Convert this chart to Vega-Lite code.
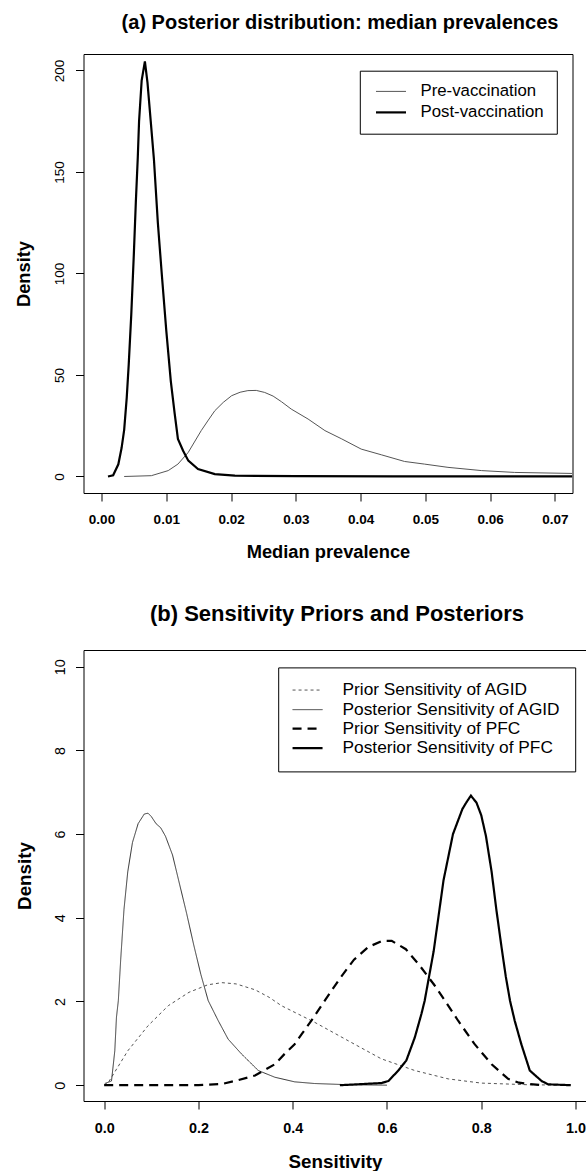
{
  "$schema": "https://vega.github.io/schema/vega-lite/v6.json",
  "background": "white",
  "padding": {"left": 13.5, "top": 12, "right": 0, "bottom": 0},
  "autosize": {"type": "pad"},
  "spacing": 157,
  "bounds": "flush",
  "resolve": {"scale": {"color": "independent", "strokeWidth": "independent", "strokeDash": "independent"}, "legend": {"color": "independent", "strokeWidth": "independent", "strokeDash": "independent"}},
  "config": {
    "font": "Liberation Sans",
    "view": {"stroke": "#000", "strokeWidth": 1},
    "axis": {"grid": false, "domain": false, "tickColor": "#000", "tickSize": 8, "tickWidth": 1, "labelColor": "#000", "titleColor": "#000", "labelFont": "Liberation Sans", "titleFont": "Liberation Sans", "titleFontWeight": "bold", "labelFlush": false, "labelOverlap": false},
    "legend": {"labelFont": "Liberation Sans", "labelColor": "#000", "labelLimit": 400},
    "title": {"font": "Liberation Sans", "fontWeight": "bold", "color": "#000", "anchor": "middle", "baseline": "alphabetic", "frame": "group"}
  },
  "datasets": {
    "a": [
      {"x": 0.0035, "d": 0, "series": "Pre-vaccination"},
      {"x": 0.0077, "d": 0.4, "series": "Pre-vaccination"},
      {"x": 0.0103, "d": 2.9, "series": "Pre-vaccination"},
      {"x": 0.0118, "d": 6.1, "series": "Pre-vaccination"},
      {"x": 0.0134, "d": 11.9, "series": "Pre-vaccination"},
      {"x": 0.0154, "d": 22.6, "series": "Pre-vaccination"},
      {"x": 0.0165, "d": 27.8, "series": "Pre-vaccination"},
      {"x": 0.0175, "d": 32.4, "series": "Pre-vaccination"},
      {"x": 0.0188, "d": 36.5, "series": "Pre-vaccination"},
      {"x": 0.0201, "d": 39.8, "series": "Pre-vaccination"},
      {"x": 0.0214, "d": 41.5, "series": "Pre-vaccination"},
      {"x": 0.0226, "d": 42.3, "series": "Pre-vaccination"},
      {"x": 0.0239, "d": 42.4, "series": "Pre-vaccination"},
      {"x": 0.0252, "d": 41.4, "series": "Pre-vaccination"},
      {"x": 0.0265, "d": 39.6, "series": "Pre-vaccination"},
      {"x": 0.0278, "d": 36.8, "series": "Pre-vaccination"},
      {"x": 0.0293, "d": 33.2, "series": "Pre-vaccination"},
      {"x": 0.0319, "d": 28.3, "series": "Pre-vaccination"},
      {"x": 0.0345, "d": 22.6, "series": "Pre-vaccination"},
      {"x": 0.0371, "d": 18.5, "series": "Pre-vaccination"},
      {"x": 0.0401, "d": 13.5, "series": "Pre-vaccination"},
      {"x": 0.0432, "d": 10.7, "series": "Pre-vaccination"},
      {"x": 0.0468, "d": 7.4, "series": "Pre-vaccination"},
      {"x": 0.0499, "d": 6.1, "series": "Pre-vaccination"},
      {"x": 0.0535, "d": 4.5, "series": "Pre-vaccination"},
      {"x": 0.0587, "d": 2.9, "series": "Pre-vaccination"},
      {"x": 0.0638, "d": 2.0, "series": "Pre-vaccination"},
      {"x": 0.0727, "d": 1.5, "series": "Pre-vaccination"},
      {"x": 0.0010, "d": 0, "series": "Post-vaccination"},
      {"x": 0.0018, "d": 0.6, "series": "Post-vaccination"},
      {"x": 0.0026, "d": 6, "series": "Post-vaccination"},
      {"x": 0.0031, "d": 14, "series": "Post-vaccination"},
      {"x": 0.0035, "d": 23, "series": "Post-vaccination"},
      {"x": 0.0039, "d": 39, "series": "Post-vaccination"},
      {"x": 0.0042, "d": 55, "series": "Post-vaccination"},
      {"x": 0.0046, "d": 80, "series": "Post-vaccination"},
      {"x": 0.0050, "d": 110, "series": "Post-vaccination"},
      {"x": 0.0053, "d": 135, "series": "Post-vaccination"},
      {"x": 0.0056, "d": 157, "series": "Post-vaccination"},
      {"x": 0.0058, "d": 175, "series": "Post-vaccination"},
      {"x": 0.0062, "d": 195, "series": "Post-vaccination"},
      {"x": 0.0067, "d": 204.5, "series": "Post-vaccination"},
      {"x": 0.0071, "d": 194, "series": "Post-vaccination"},
      {"x": 0.0076, "d": 175, "series": "Post-vaccination"},
      {"x": 0.0081, "d": 156, "series": "Post-vaccination"},
      {"x": 0.0087, "d": 125, "series": "Post-vaccination"},
      {"x": 0.0093, "d": 100, "series": "Post-vaccination"},
      {"x": 0.0100, "d": 72, "series": "Post-vaccination"},
      {"x": 0.0107, "d": 47, "series": "Post-vaccination"},
      {"x": 0.0113, "d": 31, "series": "Post-vaccination"},
      {"x": 0.0118, "d": 18.5, "series": "Post-vaccination"},
      {"x": 0.0126, "d": 12.7, "series": "Post-vaccination"},
      {"x": 0.0134, "d": 7.8, "series": "Post-vaccination"},
      {"x": 0.0149, "d": 3.7, "series": "Post-vaccination"},
      {"x": 0.0175, "d": 1.2, "series": "Post-vaccination"},
      {"x": 0.0206, "d": 0.4, "series": "Post-vaccination"},
      {"x": 0.0300, "d": 0.15, "series": "Post-vaccination"},
      {"x": 0.0450, "d": 0.1, "series": "Post-vaccination"},
      {"x": 0.0727, "d": 0.05, "series": "Post-vaccination"}
    ],
    "b": [
      {"s": 0, "dens": 0, "curve": "Prior Sensitivity of AGID"},
      {"s": 0.0085, "dens": 0.06, "curve": "Prior Sensitivity of AGID"},
      {"s": 0.05, "dens": 0.82, "curve": "Prior Sensitivity of AGID"},
      {"s": 0.093, "dens": 1.42, "curve": "Prior Sensitivity of AGID"},
      {"s": 0.136, "dens": 1.9, "curve": "Prior Sensitivity of AGID"},
      {"s": 0.18, "dens": 2.22, "curve": "Prior Sensitivity of AGID"},
      {"s": 0.22, "dens": 2.4, "curve": "Prior Sensitivity of AGID"},
      {"s": 0.25, "dens": 2.45, "curve": "Prior Sensitivity of AGID"},
      {"s": 0.28, "dens": 2.42, "curve": "Prior Sensitivity of AGID"},
      {"s": 0.32, "dens": 2.28, "curve": "Prior Sensitivity of AGID"},
      {"s": 0.35, "dens": 2.1, "curve": "Prior Sensitivity of AGID"},
      {"s": 0.376, "dens": 1.9, "curve": "Prior Sensitivity of AGID"},
      {"s": 0.447, "dens": 1.5, "curve": "Prior Sensitivity of AGID"},
      {"s": 0.518, "dens": 1.06, "curve": "Prior Sensitivity of AGID"},
      {"s": 0.588, "dens": 0.63, "curve": "Prior Sensitivity of AGID"},
      {"s": 0.659, "dens": 0.35, "curve": "Prior Sensitivity of AGID"},
      {"s": 0.73, "dens": 0.15, "curve": "Prior Sensitivity of AGID"},
      {"s": 0.8, "dens": 0.05, "curve": "Prior Sensitivity of AGID"},
      {"s": 0.9, "dens": 0.01, "curve": "Prior Sensitivity of AGID"},
      {"s": 0.99, "dens": 0, "curve": "Prior Sensitivity of AGID"},
      {"s": 0.0013, "dens": 0.04, "curve": "Posterior Sensitivity of AGID"},
      {"s": 0.0155, "dens": 0.1, "curve": "Posterior Sensitivity of AGID"},
      {"s": 0.0225, "dens": 0.82, "curve": "Posterior Sensitivity of AGID"},
      {"s": 0.026, "dens": 1.62, "curve": "Posterior Sensitivity of AGID"},
      {"s": 0.03, "dens": 2.02, "curve": "Posterior Sensitivity of AGID"},
      {"s": 0.035, "dens": 3.0, "curve": "Posterior Sensitivity of AGID"},
      {"s": 0.042, "dens": 4.2, "curve": "Posterior Sensitivity of AGID"},
      {"s": 0.05, "dens": 5.1, "curve": "Posterior Sensitivity of AGID"},
      {"s": 0.06, "dens": 5.8, "curve": "Posterior Sensitivity of AGID"},
      {"s": 0.072, "dens": 6.25, "curve": "Posterior Sensitivity of AGID"},
      {"s": 0.085, "dens": 6.48, "curve": "Posterior Sensitivity of AGID"},
      {"s": 0.093, "dens": 6.5, "curve": "Posterior Sensitivity of AGID"},
      {"s": 0.1, "dens": 6.42, "curve": "Posterior Sensitivity of AGID"},
      {"s": 0.11, "dens": 6.25, "curve": "Posterior Sensitivity of AGID"},
      {"s": 0.12, "dens": 6.15, "curve": "Posterior Sensitivity of AGID"},
      {"s": 0.13, "dens": 5.95, "curve": "Posterior Sensitivity of AGID"},
      {"s": 0.145, "dens": 5.5, "curve": "Posterior Sensitivity of AGID"},
      {"s": 0.16, "dens": 4.8, "curve": "Posterior Sensitivity of AGID"},
      {"s": 0.175, "dens": 4.1, "curve": "Posterior Sensitivity of AGID"},
      {"s": 0.19, "dens": 3.35, "curve": "Posterior Sensitivity of AGID"},
      {"s": 0.205, "dens": 2.65, "curve": "Posterior Sensitivity of AGID"},
      {"s": 0.2207, "dens": 2.02, "curve": "Posterior Sensitivity of AGID"},
      {"s": 0.242, "dens": 1.54, "curve": "Posterior Sensitivity of AGID"},
      {"s": 0.263, "dens": 1.1, "curve": "Posterior Sensitivity of AGID"},
      {"s": 0.291, "dens": 0.75, "curve": "Posterior Sensitivity of AGID"},
      {"s": 0.327, "dens": 0.35, "curve": "Posterior Sensitivity of AGID"},
      {"s": 0.362, "dens": 0.19, "curve": "Posterior Sensitivity of AGID"},
      {"s": 0.404, "dens": 0.08, "curve": "Posterior Sensitivity of AGID"},
      {"s": 0.446, "dens": 0.04, "curve": "Posterior Sensitivity of AGID"},
      {"s": 0.52, "dens": 0.01, "curve": "Posterior Sensitivity of AGID"},
      {"s": 0.6, "dens": 0, "curve": "Posterior Sensitivity of AGID"},
      {"s": 0, "dens": 0, "curve": "Prior Sensitivity of PFC"},
      {"s": 0.2, "dens": 0, "curve": "Prior Sensitivity of PFC"},
      {"s": 0.25, "dens": 0.03, "curve": "Prior Sensitivity of PFC"},
      {"s": 0.277, "dens": 0.1, "curve": "Prior Sensitivity of PFC"},
      {"s": 0.32, "dens": 0.23, "curve": "Prior Sensitivity of PFC"},
      {"s": 0.362, "dens": 0.5, "curve": "Prior Sensitivity of PFC"},
      {"s": 0.383, "dens": 0.75, "curve": "Prior Sensitivity of PFC"},
      {"s": 0.404, "dens": 0.98, "curve": "Prior Sensitivity of PFC"},
      {"s": 0.419, "dens": 1.22, "curve": "Prior Sensitivity of PFC"},
      {"s": 0.44, "dens": 1.55, "curve": "Prior Sensitivity of PFC"},
      {"s": 0.468, "dens": 2.02, "curve": "Prior Sensitivity of PFC"},
      {"s": 0.5, "dens": 2.55, "curve": "Prior Sensitivity of PFC"},
      {"s": 0.53, "dens": 3.0, "curve": "Prior Sensitivity of PFC"},
      {"s": 0.56, "dens": 3.3, "curve": "Prior Sensitivity of PFC"},
      {"s": 0.59, "dens": 3.45, "curve": "Prior Sensitivity of PFC"},
      {"s": 0.61, "dens": 3.45, "curve": "Prior Sensitivity of PFC"},
      {"s": 0.64, "dens": 3.25, "curve": "Prior Sensitivity of PFC"},
      {"s": 0.67, "dens": 2.85, "curve": "Prior Sensitivity of PFC"},
      {"s": 0.7, "dens": 2.4, "curve": "Prior Sensitivity of PFC"},
      {"s": 0.723, "dens": 2.02, "curve": "Prior Sensitivity of PFC"},
      {"s": 0.751, "dens": 1.54, "curve": "Prior Sensitivity of PFC"},
      {"s": 0.786, "dens": 0.98, "curve": "Prior Sensitivity of PFC"},
      {"s": 0.822, "dens": 0.5, "curve": "Prior Sensitivity of PFC"},
      {"s": 0.857, "dens": 0.15, "curve": "Prior Sensitivity of PFC"},
      {"s": 0.88, "dens": 0.06, "curve": "Prior Sensitivity of PFC"},
      {"s": 0.9, "dens": 0.03, "curve": "Prior Sensitivity of PFC"},
      {"s": 0.93, "dens": 0, "curve": "Prior Sensitivity of PFC"},
      {"s": 0.5, "dens": 0, "curve": "Posterior Sensitivity of PFC"},
      {"s": 0.588, "dens": 0.05, "curve": "Posterior Sensitivity of PFC"},
      {"s": 0.603, "dens": 0.1, "curve": "Posterior Sensitivity of PFC"},
      {"s": 0.624, "dens": 0.35, "curve": "Posterior Sensitivity of PFC"},
      {"s": 0.641, "dens": 0.59, "curve": "Posterior Sensitivity of PFC"},
      {"s": 0.659, "dens": 1.14, "curve": "Posterior Sensitivity of PFC"},
      {"s": 0.673, "dens": 1.7, "curve": "Posterior Sensitivity of PFC"},
      {"s": 0.68, "dens": 2.02, "curve": "Posterior Sensitivity of PFC"},
      {"s": 0.699, "dens": 3.2, "curve": "Posterior Sensitivity of PFC"},
      {"s": 0.72, "dens": 4.9, "curve": "Posterior Sensitivity of PFC"},
      {"s": 0.74, "dens": 6.0, "curve": "Posterior Sensitivity of PFC"},
      {"s": 0.76, "dens": 6.6, "curve": "Posterior Sensitivity of PFC"},
      {"s": 0.768, "dens": 6.75, "curve": "Posterior Sensitivity of PFC"},
      {"s": 0.778, "dens": 6.92, "curve": "Posterior Sensitivity of PFC"},
      {"s": 0.79, "dens": 6.75, "curve": "Posterior Sensitivity of PFC"},
      {"s": 0.8, "dens": 6.45, "curve": "Posterior Sensitivity of PFC"},
      {"s": 0.81, "dens": 5.95, "curve": "Posterior Sensitivity of PFC"},
      {"s": 0.822, "dens": 5.1, "curve": "Posterior Sensitivity of PFC"},
      {"s": 0.832, "dens": 4.2, "curve": "Posterior Sensitivity of PFC"},
      {"s": 0.843, "dens": 3.3, "curve": "Posterior Sensitivity of PFC"},
      {"s": 0.852, "dens": 2.6, "curve": "Posterior Sensitivity of PFC"},
      {"s": 0.861, "dens": 2.02, "curve": "Posterior Sensitivity of PFC"},
      {"s": 0.871, "dens": 1.54, "curve": "Posterior Sensitivity of PFC"},
      {"s": 0.885, "dens": 0.98, "curve": "Posterior Sensitivity of PFC"},
      {"s": 0.903, "dens": 0.35, "curve": "Posterior Sensitivity of PFC"},
      {"s": 0.928, "dens": 0.1, "curve": "Posterior Sensitivity of PFC"},
      {"s": 0.942, "dens": 0.02, "curve": "Posterior Sensitivity of PFC"},
      {"s": 0.99, "dens": 0, "curve": "Posterior Sensitivity of PFC"}
    ]
  },
  "vconcat": [
    {
      "width": 489,
      "height": 439,
      "title": {"text": "(a) Posterior distribution: median prevalences", "fontSize": 20, "offset": 21, "dx": 12},
      "data": {"name": "a"},
      "mark": {"type": "line", "clip": true},
      "encoding": {
        "x": {
          "field": "x", "type": "quantitative",
          "scale": {"domain": [-0.00278, 0.07273], "nice": false, "zero": false},
          "axis": {"values": [0, 0.01, 0.02, 0.03, 0.04, 0.05, 0.06, 0.07], "format": ".2f", "labelFontSize": 13.5, "labelFontWeight": "bold", "labelPadding": 11.2, "title": "Median prevalence", "titleFontSize": 18.3, "titleBaseline": "alphabetic", "titleY": 64.7}
        },
        "y": {
          "field": "d", "type": "quantitative",
          "scale": {"domain": [-8.13, 208.1], "nice": false, "zero": false},
          "axis": {"values": [0, 50, 100, 150, 200], "labelAngle": 270, "labelAlign": "center", "labelBaseline": "alphabetic", "labelPadding": 12.3, "labelFontSize": 13.5, "title": "Density", "titleFontSize": 18.3, "titleBaseline": "alphabetic", "titleAngle": 270, "titleX": -54}
        },
        "color": {
          "field": "series", "type": "nominal",
          "scale": {"domain": ["Pre-vaccination", "Post-vaccination"], "range": ["#555555", "#000000"]},
          "legend": {"title": null, "orient": "none", "legendX": 276.3, "legendY": 16.7, "direction": "vertical", "strokeColor": "#000", "fillColor": "white", "padding": 12.3, "symbolType": "M-2,0H2", "symbolSize": 225, "symbolOffset": 9.9, "labelOffset": 20.5, "labelFontSize": 16.8, "rowPadding": 2.4}
        },
        "strokeWidth": {
          "field": "series", "type": "nominal",
          "scale": {"type": "ordinal", "domain": ["Pre-vaccination", "Post-vaccination"], "range": [1, 2.2]}
        }
      }
    },
    {
      "width": 503,
      "height": 451,
      "view": {"stroke": null},
      "title": {"text": "(b) Sensitivity Priors and Posteriors", "fontSize": 22, "offset": 24.3, "dx": 2},
      "data": {"name": "b"},
      "layer": [
        {
          "mark": {"type": "line", "clip": true},
          "encoding": {
            "x": {
              "field": "s", "type": "quantitative",
              "scale": {"domain": [-0.0439, 1.0233], "nice": false, "zero": false},
              "axis": {"values": [0, 0.2, 0.4, 0.6, 0.8, 1.0], "format": ".1f", "domain": true, "domainColor": "#000", "ticks": true, "labelFontSize": 14.4, "labelFontWeight": "bold", "labelPadding": 12.3, "title": "Sensitivity", "titleFontSize": 18.8, "titleBaseline": "alphabetic", "titleY": 66.4}
            },
            "y": {
              "field": "dens", "type": "quantitative",
              "scale": {"domain": [-0.378, 10.4], "nice": false, "zero": false},
              "axis": {"values": [0, 2, 4, 6, 8, 10], "domain": true, "domainColor": "#000", "ticks": true, "labelAngle": 270, "labelAlign": "center", "labelBaseline": "alphabetic", "labelPadding": 11.3, "labelFontSize": 14.4, "title": "Density", "titleFontSize": 18.8, "titleBaseline": "alphabetic", "titleAngle": 270, "titleX": -53.5}
            },
            "color": {
              "field": "curve", "type": "nominal",
              "scale": {"domain": ["Prior Sensitivity of AGID", "Posterior Sensitivity of AGID", "Prior Sensitivity of PFC", "Posterior Sensitivity of PFC"], "range": ["#555555", "#333333", "#000000", "#000000"]},
              "legend": {"title": null, "orient": "none", "legendX": 194.7, "legendY": 17.4, "direction": "vertical", "strokeColor": "#000", "fillColor": "white", "padding": 14, "symbolType": "M-2,0H2", "symbolSize": 225, "symbolOffset": 6.35, "labelOffset": 26, "labelFontSize": 17.3, "rowPadding": 1.6}
            },
            "strokeWidth": {
              "field": "curve", "type": "nominal",
              "scale": {"type": "ordinal", "domain": ["Prior Sensitivity of AGID", "Posterior Sensitivity of AGID", "Prior Sensitivity of PFC", "Posterior Sensitivity of PFC"], "range": [1, 1, 2.2, 2.2]}
            },
            "strokeDash": {
              "field": "curve", "type": "nominal",
              "scale": {"domain": ["Prior Sensitivity of AGID", "Posterior Sensitivity of AGID", "Prior Sensitivity of PFC", "Posterior Sensitivity of PFC"], "range": [[3, 3], [1, 0], [9, 6], [1, 0]]}
            }
          }
        },
        {
          "mark": {"type": "point", "opacity": 0},
          "encoding": {
            "x": {"field": "s", "type": "quantitative", "axis": {"orient": "top", "labels": false, "ticks": false, "domain": true, "domainColor": "#000", "title": null}}
          }
        }
      ],
      "resolve": {"axis": {"x": "independent"}}
    }
  ]
}
